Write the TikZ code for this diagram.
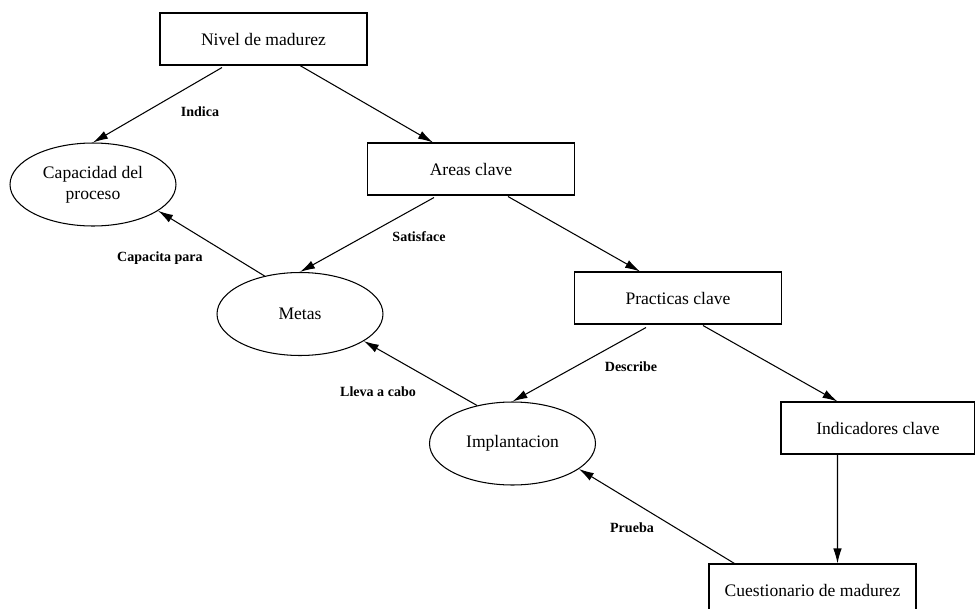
\documentclass[tikz,border=0pt]{standalone}
\usepackage{fontspec}
\setmainfont{Liberation Serif}
\usetikzlibrary{shapes.geometric, arrows.meta, calc}

\begin{document}
\begin{tikzpicture}[
  x=0.02cm, y=-0.02cm,
  conbox/.style={rectangle, draw, line width=0.6pt, minimum width=4.14cm,
                 minimum height=1.04cm, align=center, font=\fontsize{10}{12}\selectfont},
  conell/.style={ellipse, draw, line width=0.6pt, inner sep=0pt, minimum width=3.32cm,
                 minimum height=1.66cm, align=center, font=\fontsize{10}{12}\selectfont},
  arrow/.style={-{Latex[length=3mm, width=1.7mm]}, line width=0.6pt},
  elbl/.style={font=\fontsize{8}{9.6}\selectfont\bfseries, inner sep=0pt}
]
\useasboundingbox (0,0) rectangle (975,609);

% Boxes
\node[conbox] (nivel) at (263.5, 39)  {Nivel de madurez};
\node[conbox] (areas) at (471, 169)   {Areas clave};
\node[conbox] (pract) at (678, 298)   {Practicas clave};
\node[conbox, minimum width=3.88cm] (indic) at (878, 428) {Indicadores clave};
\node[conbox, text depth=0pt] (cuest) at (812.5, 590) {Cuestionario de madurez};

% Ellipses
\node[conell] (capac) at (93, 184.5)   {Capacidad del\\proceso};
\node[conell] (metas) at (300, 314)    {Metas};
\node[conell] (impl)  at (512.5, 443.5) {Implantacion};

% Edge labels
\node[elbl] (lindica) at (200, 112) {Indica};
\node[elbl] (lsatis)  at (419, 237) {Satisface};
\node[elbl] (lcapac)  at (160, 258) {Capacita para};
\node[elbl] (llleva)  at (378, 392) {Lleva a cabo};
\node[elbl] (ldescr)  at (631, 367) {Describe};
\node[elbl] (lprueba) at (632, 528) {Prueba};

% --- Arrows ---
\draw[arrow] ($(nivel.south)+(-41.5,2)$) -- (capac.north);
\draw[arrow] ($(nivel.south)+(36.5,0)$) -- ($(areas.north)+(-38,0)$);
\draw[arrow] ($(areas.south)+(-37,2)$) -- (metas.north);
\draw[arrow] (metas.133) -- (capac.-22);
\draw[arrow] ($(areas.south)+(37,1)$) -- ($(pract.north)+(-38,0)$);
\draw[arrow] ($(pract.south)+(-32,3)$) -- (impl.north);
\draw[arrow] ($(pract.south)+(25,1)$) -- ($(indic.north west)+(57,0)$);
\draw[arrow] (impl.133) -- (metas.-23);
\draw[arrow] ($(indic.south west)+(57,0)$) -- ($(cuest.north west)+(129,0)$);
\draw[arrow] ($(cuest.north west)+(26,0)$) -- (impl.-21);

\end{tikzpicture}
\end{document}
